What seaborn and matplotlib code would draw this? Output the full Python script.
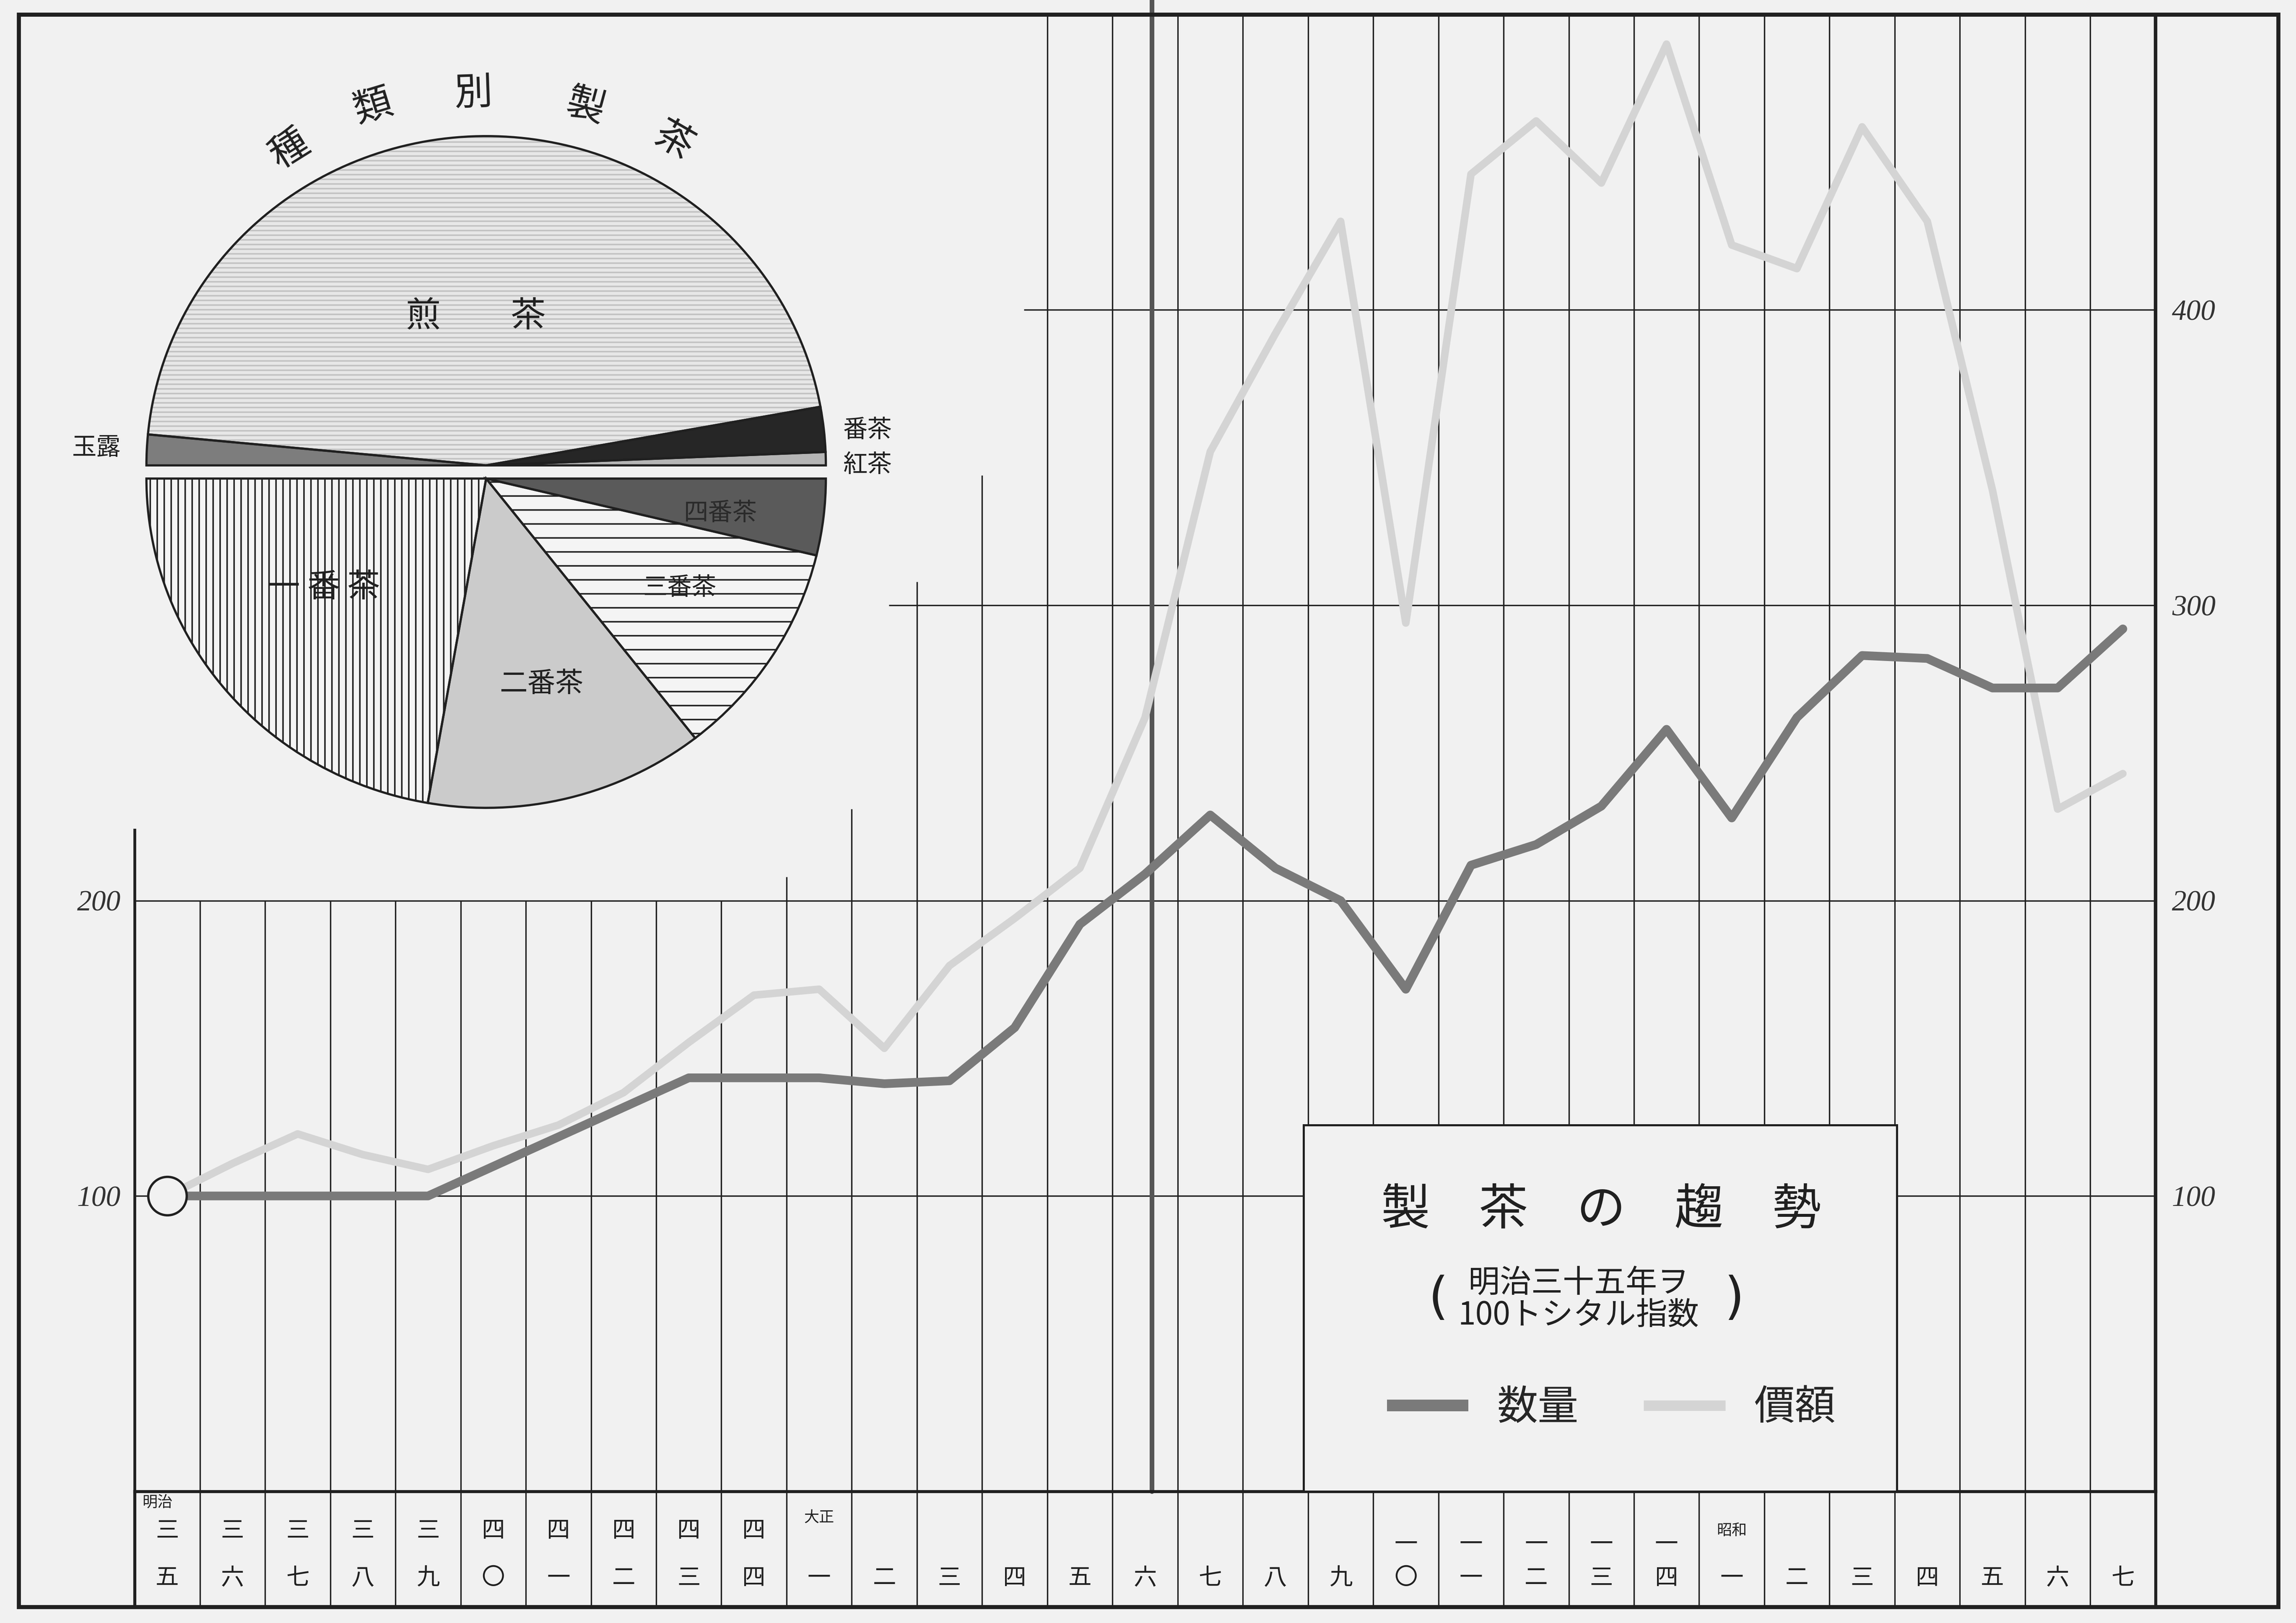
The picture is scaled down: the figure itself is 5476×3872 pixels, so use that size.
import matplotlib
matplotlib.use("Agg")
import matplotlib.pyplot as plt
from matplotlib.patches import Rectangle
import numpy as np
import seaborn as sns

sns.set_style("white")
plt.rcParams["font.family"] = ["Noto Sans CJK JP", "DejaVu Sans"]
plt.rcParams["hatch.linewidth"] = 1.3

PAPER = "#f1f1f1"
INK = "#202020"

# --- data: index (明治35年 = 100), 明治35年 .. 昭和7年 ---
year_era = ["明治"] + [""] * 9 + ["大正"] + [""] * 13 + ["昭和"] + [""] * 6
year_tens = ["三", "三", "三", "三", "三", "四", "四", "四", "四", "四",
             "", "", "", "", "", "", "", "", "", "一", "一", "一", "一", "一",
             "", "", "", "", "", "", ""]
year_units = ["五", "六", "七", "八", "九", "〇", "一", "二", "三", "四",
              "一", "二", "三", "四", "五", "六", "七", "八", "九", "〇", "一", "二", "三", "四",
              "一", "二", "三", "四", "五", "六", "七"]
quantity = [100, 100, 100, 100, 100, 110, 120, 130, 140, 140,
            140, 138, 139, 157, 192, 209, 229, 211, 200, 170, 212, 219, 232, 258,
            228, 262, 283, 282, 272, 272, 292]
value = [100, 111, 121, 114, 109, 117, 124, 135, 152, 168,
         170, 150, 178, 194, 211, 262, 352, 392, 430, 294, 446, 464, 443, 490,
         422, 414, 462, 430, 339, 231, 243]

# --- data: pie (percent of each half) ---
kind_labels = ["紅茶", "番茶", "煎茶", "玉露"]
kind_share = [1.3, 4.4, 91.3, 3.0]
pick_labels = ["四番茶", "三番茶", "二番茶", "一番茶"]
pick_share = [7.5, 21.4, 26.6, 44.5]

W, H = 1568, 1109  # layout grid (reference pixels)


def box(x0, y0, x1, y1):
    return [x0 / W, 1 - y1 / H, (x1 - x0) / W, (y1 - y0) / H]


fig = plt.figure(figsize=(27.38, 19.36), dpi=200, facecolor=PAPER)
ax = fig.add_axes(box(92, 10, 1472, 1019))
band = fig.add_axes(box(92, 1019, 1472, 1098))
pie_ax = fig.add_axes(box(100, 88.5, 564, 556.5))

n = len(year_units)
xs = np.arange(n)
bounds = np.arange(n + 1) - 0.5

# ---------------- main chart ----------------
ax.set_facecolor("none")
ax.set_xlim(-0.5, n - 0.5)
ax.set_ylim(0, 500)

# stepped grid (lines stop below the pie)
line_tops = [224] + [200] * 9 + [208, 231, 308, 344] + [500] * (n + 1 - 14)
ax.vlines(bounds[1:-1], 0, line_tops[1:-1], colors=INK, lw=1.2, zorder=1)
ax.hlines([100, 200], -0.5, n - 0.5, colors=INK, lw=1.2, zorder=1)
ax.hlines(300, 11.07, n - 0.5, colors=INK, lw=1.2, zorder=1)
ax.hlines(400, 13.14, n - 0.5, colors=INK, lw=1.2, zorder=1)
ax.axvline(15.1, 0, 1.012, color="#555555", lw=4, zorder=2, clip_on=False)

sns.lineplot(x=xs, y=value, color="#d4d4d4", lw=6.5, ax=ax, zorder=4, label="價額")
sns.lineplot(x=xs, y=quantity, color="#7a7a7a", lw=7.5, ax=ax, zorder=5, label="数量")
ax.plot(xs[0], quantity[0], marker="o", ms=33, mfc=PAPER, mec=INK, mew=2, zorder=6)

# legend panel
ax.add_patch(Rectangle((17.43, 0), 9.1, 124, facecolor=PAPER, edgecolor=INK,
                       lw=1.8, zorder=3))
ax.text(22.0, 95, "製　茶　の　趨　勢", ha="center", va="center", fontsize=42,
        color=INK, zorder=7)
ax.text(21.65, 70.4, "明治三十五年ヲ", ha="center", va="center", fontsize=27,
        color=INK, zorder=7)
ax.text(21.65, 59.6, "100トシタル指数", ha="center", va="center", fontsize=27,
        color=INK, zorder=7)
ax.text(19.5, 65, "(", ha="center", va="center", fontsize=44, color=INK,
        family="DejaVu Sans", zorder=7)
ax.text(24.04, 65, ")", ha="center", va="center", fontsize=44, color=INK,
        family="DejaVu Sans", zorder=7)

handles, labels = ax.get_legend_handles_labels()
order = [labels.index("数量"), labels.index("價額")]
leg = ax.legend([handles[i] for i in order], [labels[i] for i in order],
                loc="center", bbox_to_anchor=(22.15, 28.2),
                bbox_transform=ax.transData, ncol=2, frameon=False,
                fontsize=35, handlelength=2.0, handletextpad=0.7,
                columnspacing=1.6)
leg.set_zorder(7)
for line, lw in zip(leg.get_lines(), [10, 9]):
    line.set_linewidth(lw)
    line.set_solid_capstyle("butt")

ax.set_xticks([])
ax.set_yticks([100, 200])
ax.set_yticklabels(["100", "200"], fontfamily="Liberation Serif", fontstyle="italic")
ax.tick_params(axis="y", length=0, pad=12, labelsize=25, labelcolor="#333333")
ax.set_xlabel("")
ax.set_ylabel("")
ax.spines["top"].set_visible(False)
ax.spines["left"].set_bounds(0, 224)
ax.spines["left"].set_linewidth(2.4)
ax.spines["bottom"].set_linewidth(2.6)
ax.spines["right"].set_visible(False)
for s in ["left", "bottom"]:
    ax.spines[s].set_color(INK)

ax_r = ax.twinx()
ax_r.set_ylim(0, 500)
ax_r.set_yticks([100, 200, 300, 400])
ax_r.set_yticklabels(["100", "200", "300", "400"], fontfamily="Liberation Serif",
                     fontstyle="italic")
ax_r.tick_params(axis="y", length=0, pad=14, labelsize=25, labelcolor="#333333")
for s in ["left", "top", "bottom"]:
    ax_r.spines[s].set_visible(False)
ax_r.spines["right"].set_linewidth(3)
ax_r.spines["right"].set_color(INK)

# ---------------- year band ----------------
band.set_facecolor("none")
band.set_xlim(-0.5, n - 0.5)
band.set_ylim(0, 1)
band.set_xticks([])
band.set_yticks([])
band.vlines(bounds[1:-1], 0, 1, colors=INK, lw=1.2)
for s in ["top", "bottom"]:
    band.spines[s].set_visible(False)
for s in ["left", "right"]:
    band.spines[s].set_linewidth(2.6)
    band.spines[s].set_color(INK)

era_y = {"明治": 0.90, "大正": 0.77, "昭和": 0.66}
era_dx = {"明治": -0.15, "大正": 0.0, "昭和": 0.0}
for i in range(n):
    band.text(i, 0.25, year_units[i], ha="center", va="center", fontsize=20, color=INK)
    if year_tens[i]:
        ty = 0.66 if i < 10 else 0.54
        band.text(i, ty, year_tens[i], ha="center", va="center", fontsize=20, color=INK)
    if year_era[i]:
        band.text(i + era_dx[year_era[i]], era_y[year_era[i]], year_era[i],
                  ha="center", va="center", fontsize=13, color=INK)

# ---------------- pie (two halves) ----------------
gap = 0.02
kind_colors = ["#b5b5b5", "#262626", "#e7e7e7", "#7d7d7d"]
kind_hatch = [None, None, "---", None]
kind_hatch_col = ["#b5b5b5", "#262626", "#c2c2c2", "#7d7d7d"]
pick_colors = ["#5a5a5a", "#f4f4f4", "#cbcbcb", "#f4f4f4"]
pick_hatch = [None, "-", None, "||"]
pick_hatch_col = ["#5a5a5a", INK, "#cbcbcb", INK]

up_vals = kind_share + [sum(kind_share)]
lo_vals = pick_share + [sum(pick_share)]

wedges, _ = pie_ax.pie(up_vals, startangle=0, counterclock=True, center=(0, gap),
                       colors=kind_colors + ["none"], wedgeprops=dict(linewidth=0))
for w, h, hc in zip(wedges, kind_hatch + [None], kind_hatch_col + ["none"]):
    w.set_edgecolor(hc)
    if h:
        w.set_hatch(h)
wedges[-1].set_visible(False)

wedges, _ = pie_ax.pie(lo_vals, startangle=0, counterclock=False, center=(0, -gap),
                       colors=pick_colors + ["none"], wedgeprops=dict(linewidth=0))
for w, h, hc in zip(wedges, pick_hatch + [None], pick_hatch_col + ["none"]):
    w.set_edgecolor(hc)
    if h:
        w.set_hatch(h)
wedges[-1].set_visible(False)

# outlines
for vals, cc, cy in [(up_vals, True, gap), (lo_vals, False, -gap)]:
    ws, _ = pie_ax.pie(vals, startangle=0, counterclock=cc, center=(0, cy),
                       wedgeprops=dict(fill=False, edgecolor=INK, linewidth=1.9))
    ws[-1].set_visible(False)

pie_ax.set_aspect("auto")
pie_ax.set_xlim(-1, 1)
pie_ax.set_ylim(-1.04, 1.04)
pie_ax.axis("off")

pie_ax.text(-0.03, 0.473, "煎　　茶", ha="center", va="center", fontsize=30, color=INK)
pie_ax.text(-1.147, 0.073, kind_labels[3], ha="center", va="center", fontsize=21, color=INK)
pie_ax.text(1.123, 0.127, kind_labels[1], ha="center", va="center", fontsize=21, color=INK)
pie_ax.text(1.123, 0.021, kind_labels[0], ha="center", va="center", fontsize=21, color=INK)
pie_ax.text(0.69, -0.125, pick_labels[0], ha="center", va="center", fontsize=21, color="#2a2a2a")
pie_ax.text(0.569, -0.352, pick_labels[1], ha="center", va="center", fontsize=21, color=INK)
pie_ax.text(0.162, -0.644, pick_labels[2], ha="center", va="center", fontsize=24, color=INK)
pie_ax.text(-0.478, -0.352, "一 番 茶", ha="center", va="center", fontsize=28, color=INK)

ring = [("種", -0.578, 0.979, 32), ("類", -0.332, 1.109, 17), ("別", -0.037, 1.149, 2),
        ("製", 0.293, 1.109, -15), ("茶", 0.552, 1.004, -30)]
for ch, tx, ty, rot in ring:
    pie_ax.text(tx, ty, ch, ha="center", va="center", fontsize=33, rotation=rot,
                color=INK, clip_on=False)

# page frame
fig.add_artist(Rectangle((13 / W, 1 - 1098 / H), (1556 - 13) / W, (1098 - 10) / H,
                         transform=fig.transFigure, fill=False, lw=3.5, ec=INK))

fig.savefig("out.png", dpi=200, facecolor=PAPER)
